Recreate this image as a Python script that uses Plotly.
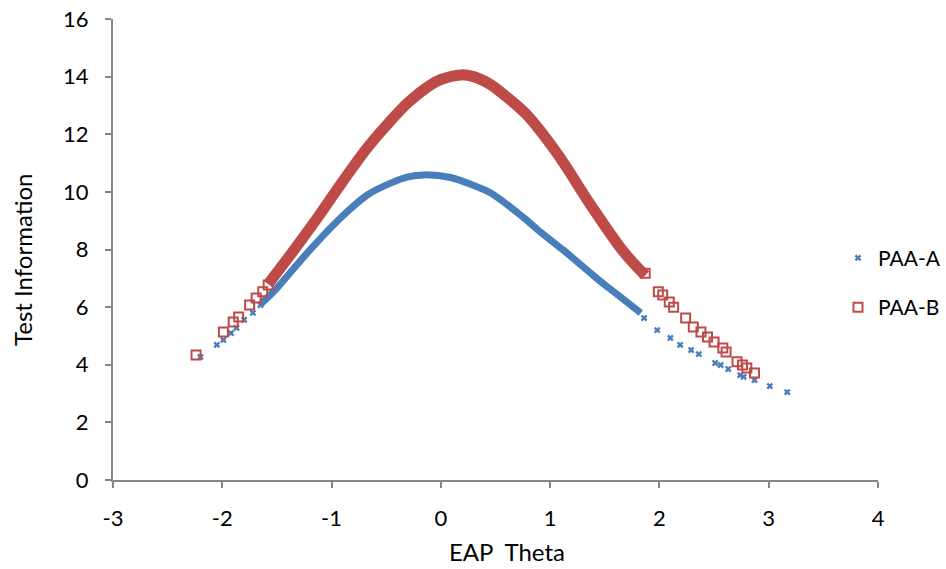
import plotly.graph_objects as go

# PAA-A (blue) dense central band
a_core_theta = [-1.65, -1.51, -1.23, -0.93, -0.67, -0.45, -0.30, -0.155, 0.09, 0.30, 0.457, 0.75, 0.914, 1.12, 1.37, 1.49, 1.62, 1.83]
a_core_info = [6.10, 6.62, 7.85, 9.05, 9.90, 10.32, 10.52, 10.59, 10.50, 10.22, 9.96, 9.13, 8.60, 7.98, 7.18, 6.80, 6.42, 5.80]
# PAA-A isolated points
a_tail_theta = [-2.20, -2.05, -1.99, -1.92, -1.87, -1.80, -1.72, -1.65,
                1.86, 1.98, 2.10, 2.19, 2.29, 2.36, 2.51, 2.56, 2.63, 2.74, 2.77, 2.87, 3.01, 3.17]
a_tail_info = [4.27, 4.69, 4.86, 5.10, 5.28, 5.56, 5.80, 6.07,
               5.62, 5.20, 4.93, 4.69, 4.51, 4.37, 4.06, 3.99, 3.85, 3.64, 3.58, 3.47, 3.26, 3.05]

# PAA-B (red) dense central band
b_core_theta = [-1.58, -1.37, -1.12, -0.90, -0.69, -0.50, -0.30, -0.10, 0.00, 0.18, 0.30, 0.457, 0.60, 0.78, 1.07, 1.37, 1.67, 1.87]
b_core_info = [6.80, 7.85, 9.15, 10.35, 11.45, 12.30, 13.10, 13.70, 13.90, 14.06, 14.00, 13.72, 13.30, 12.70, 11.30, 9.55, 7.93, 7.10]
# PAA-B isolated points
b_tail_theta = [-2.24, -1.99, -1.90, -1.85, -1.75, -1.69, -1.63, -1.58,
                1.87, 1.99, 2.03, 2.09, 2.13, 2.24, 2.31, 2.38, 2.44, 2.50, 2.58, 2.61, 2.71, 2.76, 2.80, 2.87]
b_tail_info = [4.34, 5.14, 5.48, 5.66, 6.07, 6.32, 6.53, 6.77,
               7.18, 6.53, 6.42, 6.18, 6.00, 5.62, 5.31, 5.14, 4.96, 4.79, 4.58, 4.44, 4.10, 3.99, 3.89, 3.71]

x_ticks = [-3, -2, -1, 0, 1, 2, 3, 4]
y_ticks = [0, 2, 4, 6, 8, 10, 12, 14, 16]

BLUE = "#4A7EBB"
RED = "#BE4B48"
AXIS = "#868686"
FONT = "Lato"

fig = go.Figure()

fig.add_trace(go.Scatter(x=b_core_theta, y=b_core_info, mode="lines", line=dict(color=RED, width=11, shape="spline", smoothing=0.9),
                         legendgroup="B", showlegend=False, hoverinfo="skip"))
fig.add_trace(go.Scatter(x=a_core_theta, y=a_core_info, mode="lines", line=dict(color=BLUE, width=7, shape="spline", smoothing=0.9),
                         legendgroup="A", showlegend=False, hoverinfo="skip"))
fig.add_trace(go.Scatter(x=a_tail_theta, y=a_tail_info, mode="markers", name="PAA-A", legendgroup="A",
                         marker=dict(symbol="x", size=6, color=BLUE, line=dict(width=0))))
fig.add_trace(go.Scatter(x=b_tail_theta, y=b_tail_info, mode="markers", name="PAA-B", legendgroup="B",
                         marker=dict(symbol="square-open", size=9, color=RED, line=dict(width=2, color=RED))))

fig.update_layout(
    width=946, height=569,
    margin=dict(l=113, r=68, t=19, b=89, autoexpand=False),
    paper_bgcolor="white", plot_bgcolor="white",
    font=dict(family=FONT, size=22, color="#000000"),
    showlegend=True,
    legend=dict(x=(838 - 113) / 765, y=0.428, xanchor="left", yanchor="middle", traceorder="grouped",
                tracegroupgap=19, font=dict(size=21), bgcolor="rgba(0,0,0,0)", itemwidth=30),
    xaxis=dict(range=[-3, 4], tickvals=x_ticks, ticktext=[str(v) for v in x_ticks],
               showgrid=False, zeroline=False, showline=True, linecolor=AXIS, linewidth=2,
               ticks="outside", ticklen=6, tickcolor=AXIS, tickwidth=1.5,
               ticklabelstandoff=12, tickfont=dict(size=22)),
    yaxis=dict(range=[0, 16], tickvals=y_ticks, ticktext=[str(v) for v in y_ticks],
               showgrid=False, zeroline=False, showline=True, linecolor=AXIS, linewidth=2,
               ticks="outside", ticklen=6, tickcolor=AXIS, tickwidth=1.5,
               ticklabelstandoff=12, tickfont=dict(size=22)),
    annotations=[
        dict(text="EAP  Theta", xref="paper", yref="paper", x=(507 - 113) / 765, y=-(551 - 480) / 461,
             xanchor="center", yanchor="middle", showarrow=False, font=dict(size=24)),
        dict(text="Test Information", xref="paper", yref="paper", x=-(113 - 22) / 765, y=(480 - 260) / 461,
             xanchor="center", yanchor="middle", showarrow=False, textangle=-90, font=dict(size=24)),
    ],
)

fig.write_html("out.html")
